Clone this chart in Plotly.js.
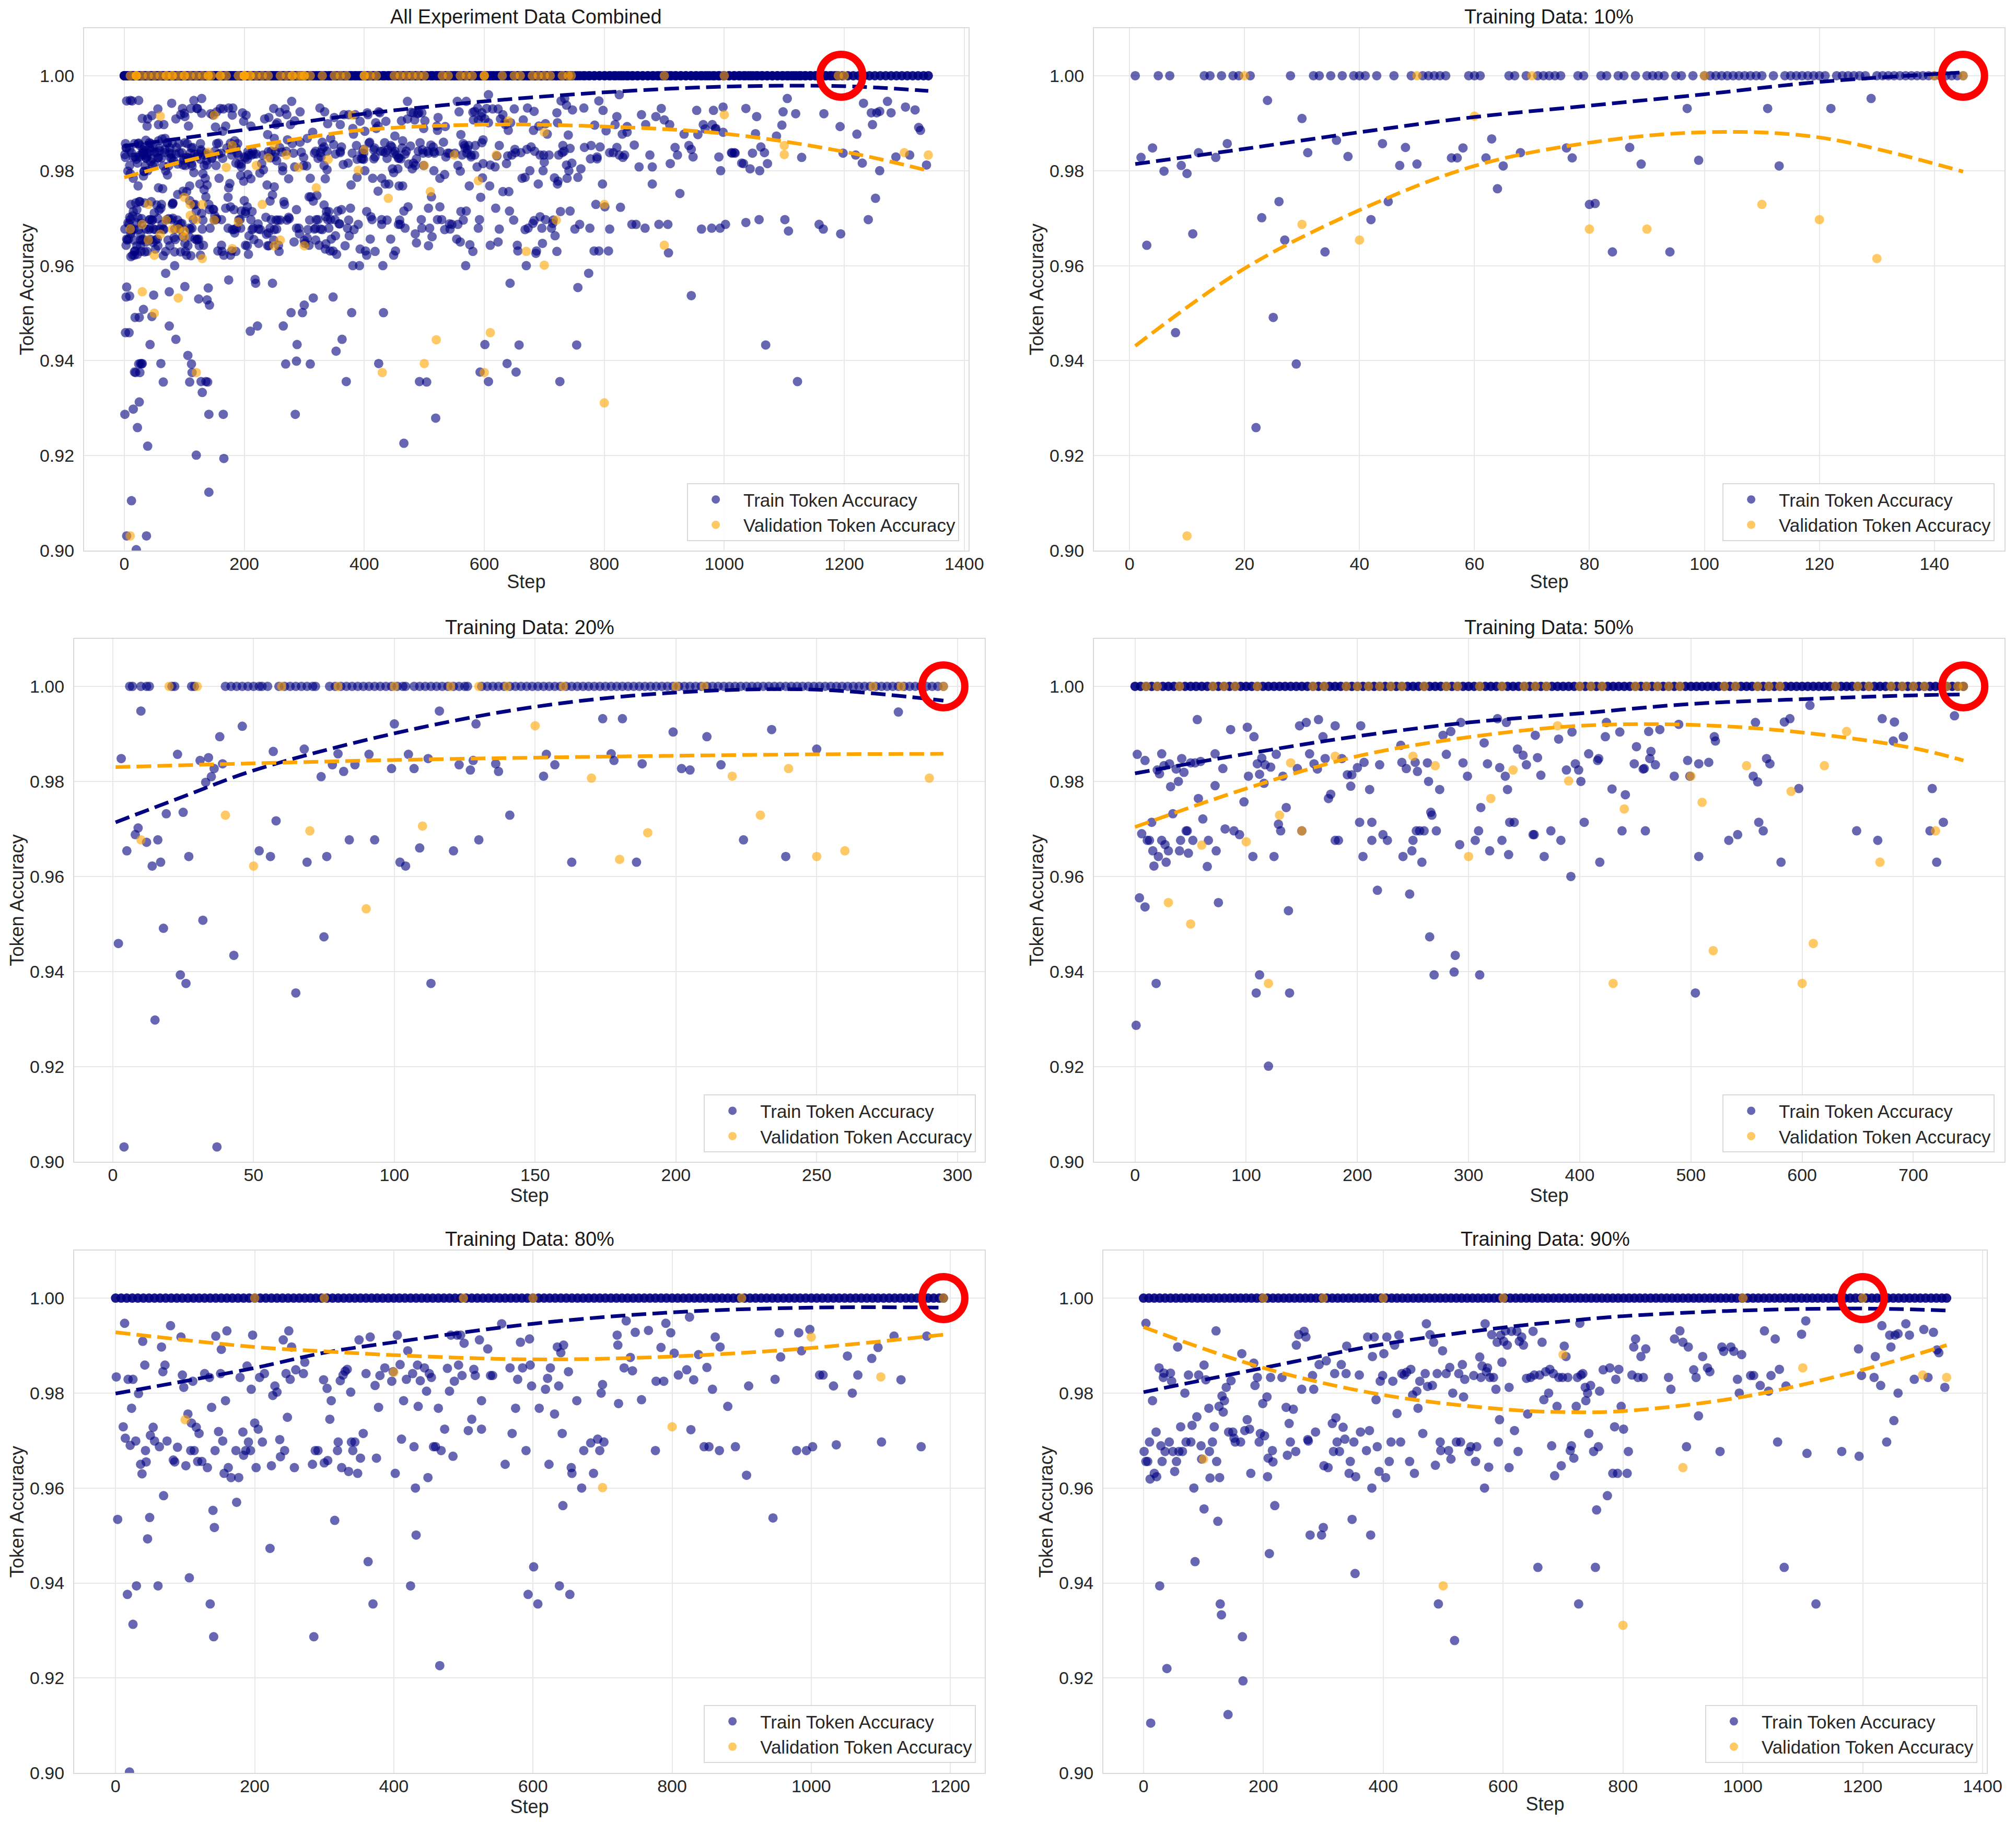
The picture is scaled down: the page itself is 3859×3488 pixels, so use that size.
<!DOCTYPE html>
<html><head><meta charset="utf-8">
<script src="https://cdn.plot.ly/plotly-3.0.1.min.js"></script>
<style>html,body{margin:0;padding:0;background:#fff}#chart{width:3859px;height:3488px}</style>
</head><body><div id="chart"></div>
<script>
// ---------------- Training Data: 10% ----------------
const p10TrainSteps = [2,3,4,6,8,9,10,11,12,15,
17,22,23,24,25,26,27,29,30,31,
34,36,38,42,44,45,47,48,50,56,
57,58,62,63,64,65,68,76,77,80,
81,84,87,89,94,97,99,111,113,122,
129];
const p10TrainAcc = [0.9828,0.9643,0.9848,0.9799,0.9459,0.9811,0.9794,0.9667,0.9838,0.9828,
0.9857,0.9259,0.9701,0.9948,0.9491,0.9735,0.9654,0.9393,0.9910,0.9838,
0.9629,0.9864,0.9830,0.9697,0.9857,0.9735,0.9811,0.9849,0.9814,0.9827,
0.9827,0.9848,0.9827,0.9867,0.9762,0.9810,0.9838,0.9848,0.9827,0.9729,
0.9731,0.9629,0.9849,0.9814,0.9629,0.9931,0.9822,0.9931,0.9810,0.9931,
0.9952];
const p10PerfectSteps = [1,5,7,13,14,16,18,19,21,28,
32,33,35,37,39,40,41,43,46,49,
51,52,53,54,55,59,60,61,66,67,
69,71,72,73,74,75,78,79,82,83,
85,86,88,90,91,92,93,95,96,98,
100,101,102,103,104,105,106,107,108,109,
110,112,114,115,116,117,118,119,120,121,
123,124,125,126,127,128,130,131,132,133,
134,135,136,137,138,139,140,141,142,143,
144,145];
const p10PerfectAcc = [1,1,1,1,1,1,1,1,1,1,
1,1,1,1,1,1,1,1,1,1,
1,1,1,1,1,1,1,1,1,1,
1,1,1,1,1,1,1,1,1,1,
1,1,1,1,1,1,1,1,1,1,
1,1,1,1,1,1,1,1,1,1,
1,1,1,1,1,1,1,1,1,1,
1,1,1,1,1,1,1,1,1,1,
1,1,1,1,1,1,1,1,1,1,
1,1];
const p10ValSteps = [10,20,30,40,50,60,70,80,90,100,110,120,130,140,145];
const p10ValAcc = [0.9031,1,0.9687,0.9654,1,0.9915,1,0.9677,0.9677,1,0.9729,0.9697,0.9615,1,1];
const p10TrendSteps = [1,20,40,60,80,100,120,145];
const p10TrendTrain = [0.9814,0.9846,0.9881,0.9913,0.9937,0.9961,0.9987,1.0007];
const p10TrendVal = [0.9431,0.9594,0.9717,0.9810,0.9859,0.9881,0.9870,0.9798];

// ---------------- Training Data: 20% ----------------
const p20TrainSteps = [2,3,4,5,8,9,10,12,14,15,
16,17,18,19,23,24,25,26,27,31,
32,33,34,35,36,37,38,39,43,46,
52,56,57,58,65,68,69,74,75,76,
78,80,82,84,86,91,93,99,100,102,
104,105,107,109,112,113,116,121,123,127,
128,129,130,136,137,141,153,154,157,163,
174,177,178,181,186,188,199,202,205,211,
216,224,234,239,250,279];
const p20TrainAcc = [0.9459,0.9848,0.9031,0.9654,0.9688,0.9702,0.9948,0.9672,0.9622,0.9298,
0.9677,0.9630,0.9491,0.9732,0.9857,0.9393,0.9735,0.9375,0.9642,0.9844,
0.9508,0.9798,0.9850,0.9810,0.9827,0.9031,0.9894,0.9837,0.9434,0.9916,
0.9654,0.9642,0.9863,0.9717,0.9355,0.9868,0.9630,0.9810,0.9473,0.9642,
0.9835,0.9858,0.9821,0.9677,0.9835,0.9857,0.9677,0.9827,0.9921,0.9630,
0.9622,0.9857,0.9827,0.9660,0.9848,0.9375,0.9948,0.9654,0.9835,0.9824,
0.9844,0.9921,0.9677,0.9837,0.9821,0.9729,0.9811,0.9857,0.9835,0.9630,
0.9932,0.9858,0.9844,0.9932,0.9630,0.9837,0.9904,0.9827,0.9824,0.9894,
0.9835,0.9677,0.9909,0.9642,0.9868,0.9946];
const p20PerfectSteps = [6,7,10,12,13,21,22,28,29,40,
42,44,46,48,50,52,53,55,59,61,
63,65,67,69,71,72,77,79,81,83,
85,87,89,91,93,95,97,99,101,103,
104,107,109,111,113,115,117,119,121,123,
125,126,
131,133,135,137,139,141,143,145,147,149,
151,153,155,157,159,161,163,165,167,169,
171,173,175,177,179,181,183,185,187,189,
191,193,195,197,199,201,203,205,207,209,
211,213,215,217,219,221,223,225,227,229,
231,233,235,237,239,241,243,245,247,249,
251,253,255,257,259,261,263,265,267,269,
271,273,275,277,279,281,283,285,287,289,
291,293,295];
const p20PerfectAcc = [1,1,1,1,1,1,1,1,1,1,
1,1,1,1,1,1,1,1,1,1,
1,1,1,1,1,1,1,1,1,1,
1,1,1,1,1,1,1,1,1,1,
1,1,1,1,1,1,1,1,1,1,
1,1,
1,1,1,1,1,1,1,1,1,1,
1,1,1,1,1,1,1,1,1,1,
1,1,1,1,1,1,1,1,1,1,
1,1,1,1,1,1,1,1,1,1,
1,1,1,1,1,1,1,1,1,1,
1,1,1,1,1,1,1,1,1,1,
1,1,1,1,1,1,1,1,1,1,
1,1,1,1,1,1,1,1,1,1,
1,1,1];
const p20ValSteps = [10,20,30,40,50,60,70,80,90,100,110,120,130,140,150,160,170,180,190,200,210,220,230,240,250,260,270,280,290,295];
const p20ValAcc = [0.9677,1,1,0.9729,0.9622,1,0.9696,1,0.9532,1,0.9706,1,1,1,0.9917,1,0.9807,0.9636,0.9692,1,1,0.9811,0.9729,0.9827,0.9642,0.9654,1,1,0.9807,1];
const p20TrendSteps = [1,25,50,100,150,200,250,295];
const p20TrendTrain = [0.9714,0.9768,0.9823,0.9901,0.9957,0.9987,0.9993,0.9970];
const p20TrendVal = [0.9830,0.9834,0.9838,0.9845,0.9850,0.9854,0.9857,0.9858];

// ---------------- Training Data: 50% ----------------
const p50TrainSteps = [1,2,4,6,9,9,11,13,15,16,
17,19,20,21,22,24,24,26,27,28,
30,31,32,34,37,39,40,41,42,44,
46,47,48,50,52,54,56,57,59,61,
65,66,72,72,73,75,79,81,86,89,
94,98,101,102,106,107,109,110,112,112,
114,116,117,120,122,125,127,129,131,133,
136,138,139,146,148,150,154,157,161,164,
165,169,171,174,176,180,180,183,186,191,
194,195,200,202,203,205,206,211,213,213,
218,220,223,227,239,240,241,244,247,249,
250,252,253,254,256,258,260,263,264,265,
266,267,269,271,274,277,280,284,287,288,
292,293,295,299,306,309,310,311,314,317,
319,326,328,330,333,334,335,336,337,341,
344,349,352,358,359,360,362,365,368,374,
381,383,388,392,393,396,399,401,404,408,
416,417,418,423,424,429,436,438,441,449,
451,457,458,459,462,463,464,468,472,485,
489,497,499,504,507,507,516,521,522,534,
542,556,558,560,561,565,568,571,581,584,
589,597,607,649,668,672,682,683,691,715,
717,721,727,737];
const p50TrainAcc = [0.9287,0.9857,0.9555,0.9690,0.9844,0.9536,0.9676,0.9676,0.9714,0.9654,
0.9622,0.9375,0.9824,0.9642,0.9816,0.9676,0.9858,0.9833,0.9667,0.9630,
0.9654,0.9837,0.9789,0.9732,0.9826,0.9800,0.9654,0.9676,0.9848,0.9819,
0.9696,0.9696,0.9649,0.9839,0.9676,0.9839,0.9930,0.9764,0.9842,0.9721,
0.9621,0.9676,0.9858,0.9791,0.9654,0.9545,0.9827,0.9700,0.9909,0.9696,
0.9688,0.9757,0.9914,0.9811,0.9642,0.9894,0.9355,0.9837,0.9393,0.9815,
0.9849,0.9796,0.9835,0.9201,0.9830,0.9642,0.9857,0.9710,0.9696,0.9811,
0.9745,0.9528,0.9355,0.9827,0.9917,0.9696,0.9924,0.9858,0.9837,0.9826,
0.9930,0.9894,0.9848,0.9764,0.9773,0.9917,0.9676,0.9676,0.9848,0.9814,
0.9790,0.9814,0.9829,0.9714,0.9917,0.9642,0.9840,0.9783,0.9714,0.9676,
0.9571,0.9835,0.9688,0.9676,0.9876,0.9840,0.9642,0.9827,0.9563,0.9654,
0.9676,0.9840,0.9696,0.9821,0.9696,0.9630,0.9696,0.9839,0.9800,0.9473,
0.9735,0.9729,0.9393,0.9696,0.9783,0.9897,0.9857,0.9905,0.9399,0.9434,
0.9667,0.9924,0.9839,0.9811,0.9676,0.9696,0.9393,0.9745,0.9881,0.9837,
0.9654,0.9932,0.9829,0.9676,0.9811,0.9924,0.9783,0.9646,0.9714,0.9714,
0.9868,0.9855,0.9835,0.9688,0.9688,0.9897,0.9850,0.9813,0.9642,0.9696,
0.9889,0.9676,0.9824,0.9600,0.9904,0.9837,0.9824,0.9800,0.9714,0.9858,
0.9844,0.9848,0.9630,0.9894,0.9924,0.9784,0.9904,0.9696,0.9772,0.9837,
0.9873,0.9826,0.9827,0.9696,0.9905,0.9848,0.9863,0.9835,0.9909,0.9811,
0.9920,0.9844,0.9811,0.9355,0.9837,0.9642,0.9840,0.9894,0.9885,0.9676,
0.9688,0.9811,0.9924,0.9799,0.9714,0.9696,0.9848,0.9837,0.9630,0.9925,
0.9932,0.9785,0.9960,0.9696,0.9676,0.9932,0.9885,0.9925,0.9894,0.9696,
0.9785,0.9630,0.9714,0.9938];
const p50PerfectSteps = [0,5,10,15,20,25,30,35,40,45,
50,55,60,65,70,75,80,85,90,95,
100,105,110,115,120,125,130,135,140,145,
150,155,160,165,170,175,180,185,190,195,
200,205,210,215,220,225,230,235,240,245,
250,255,260,265,270,275,280,285,290,295,
300,305,310,315,320,325,330,335,340,345,
350,355,360,365,370,375,380,385,390,395,
400,405,410,415,420,425,430,435,440,445,
450,455,460,465,470,475,480,485,490,495,
500,505,510,515,520,525,530,535,540,545,
550,555,560,565,570,575,580,585,590,595,
600,605,610,615,620,625,630,635,640,645,
650,655,660,665,670,675,680,685,690,695,
700,705,710,715,720,725,730,735,740,745];
const p50PerfectAcc = [1,1,1,1,1,1,1,1,1,1,
1,1,1,1,1,1,1,1,1,1,
1,1,1,1,1,1,1,1,1,1,
1,1,1,1,1,1,1,1,1,1,
1,1,1,1,1,1,1,1,1,1,
1,1,1,1,1,1,1,1,1,1,
1,1,1,1,1,1,1,1,1,1,
1,1,1,1,1,1,1,1,1,1,
1,1,1,1,1,1,1,1,1,1,
1,1,1,1,1,1,1,1,1,1,
1,1,1,1,1,1,1,1,1,1,
1,1,1,1,1,1,1,1,1,1,
1,1,1,1,1,1,1,1,1,1,
1,1,1,1,1,1,1,1,1,1,
1,1,1,1,1,1,1,1,1,1];
const p50ValSteps = [10,20,30,40,50,60,70,80,90,100,
110,120,130,140,150,160,170,180,190,200,
210,220,230,240,250,260,270,280,290,300,
310,320,330,340,350,360,370,380,390,400,
410,420,430,440,450,460,470,480,490,500,
510,520,530,540,550,560,570,580,590,600,
610,620,630,640,650,660,670,680,690,700,
710,720,730,740,745];
const p50ValAcc = [1,1,0.9545,1,0.9500,0.9666,1,1,1,0.9673,
1,0.9375,0.9729,0.9839,0.9696,1,1,0.9853,1,1,
1,1,1,1,0.9853,1,0.9833,1,1,0.9642,
1,0.9764,1,0.9824,1,1,1,0.9917,0.9801,1,
1,1,0.9375,0.9742,1,1,1,1,1,0.9811,
0.9756,0.9444,1,1,0.9833,1,1,1,0.9779,0.9375,
0.9459,0.9833,1,0.9905,1,1,0.9630,1,1,1,
1,0.9696,1,1,1];
const p50TrendSteps = [0,100,200,300,400,500,600,700,745];
const p50TrendTrain = [0.9817,0.9858,0.9895,0.9924,0.9943,0.9963,0.9973,0.9981,0.9983];
const p50TrendVal = [0.9704,0.9785,0.9853,0.9893,0.9917,0.9919,0.9903,0.9870,0.9844];

// ---------------- Training Data: 80% ----------------
const p80TrainSteps = [1,3,11,13,14,17,18,20,21,23,
25,25,29,30,33,36,38,39,42,43,
44,46,49,50,54,56,61,63,66,68,
69,71,74,79,83,85,89,94,96,98,
101,104,106,108,109,111,113,116,118,120,
124,128,132,135,136,138,140,141,142,143,
144,148,151,152,154,156,158,160,162,166,
173,174,177,179,183,184,187,189,191,194,
195,197,200,202,205,207,211,214,222,224,
226,229,232,236,237,241,243,245,247,249,
251,253,257,259,270,272,283,285,287,291,
299,300,304,305,308,310,315,319,320,323,
325,327,330,333,335,338,339,341,344,348,
350,352,356,360,363,366,370,373,375,378,
380,387,397,399,402,405,409,411,414,418,
420,424,427,429,431,432,434,435,438,444,
447,449,451,454,457,460,464,466,468,473,
477,480,482,485,487,491,493,496,498,501,
507,512,515,517,523,526,526,535,539,542,
555,560,567,570,575,578,582,585,590,593,
595,596,598,601,607,609,618,621,623,625,
631,635,637,638,640,642,643,644,651,653,
655,656,663,670,673,683,687,693,696,698,
700,702,721,722,723,731,734,740,743,747,
756,766,776,777,784,788,791,798,803,809,
821,825,827,831,838,846,850,853,858,862,
868,869,880,891,907,910,945,948,954,956,
979,982,986,993,998,1002,1012,1017,1032,1036,
1052,1059,1067,1087,1096,1101,1119,1129,1158,1166];
const p80TrainAcc = [0.9834,0.9534,0.9729,0.9947,0.9705,0.9376,0.9829,0.9002,0.9690,0.9768,
0.9313,0.9829,0.9699,0.9394,0.9799,0.9650,0.9630,0.9909,0.9859,0.9679,
0.9655,0.9493,0.9538,0.9711,0.9728,0.9699,0.9394,0.9687,0.9897,0.9845,
0.9584,0.9859,0.9699,0.9942,0.9659,0.9655,0.9686,0.9918,0.9838,0.9812,
0.9647,0.9756,0.9411,0.9679,0.9737,0.9825,0.9679,0.9728,0.9656,0.9715,
0.9656,0.9841,0.9643,0.9833,0.9356,0.9770,0.9553,0.9287,0.9517,0.9679,
0.9920,0.9719,0.9841,0.9892,0.9699,0.9631,0.9784,0.9931,0.9643,0.9622,
0.9679,0.9570,0.9622,0.9833,0.9718,0.9669,0.9679,0.9857,0.9697,0.9679,
0.9808,0.9922,0.9737,0.9643,0.9724,0.9833,0.9697,0.9841,0.9473,0.9647,
0.9795,0.9815,0.9802,0.9702,0.9666,0.9912,0.9679,0.9841,0.9749,0.9931,
0.9829,0.9897,0.9643,0.9849,0.9841,0.9865,0.9650,0.9287,0.9679,0.9679,
0.9828,0.9653,0.9810,0.9658,0.9745,0.9784,0.9532,0.9679,0.9697,0.9826,
0.9643,0.9838,0.9846,0.9850,0.9635,0.9802,0.9697,0.9679,0.9697,0.9631,
0.9912,0.9663,0.9715,0.9841,0.9445,0.9918,0.9356,0.9816,0.9663,0.9770,
0.9837,0.9853,0.9825,0.9845,0.9631,0.9922,0.9860,0.9703,0.9784,0.9829,
0.9889,0.9394,0.9841,0.9687,0.9600,0.9501,0.9859,0.9772,0.9826,0.9853,
0.9804,0.9622,0.9841,0.9833,0.9687,0.9687,0.9768,0.9226,0.9679,0.9724,
0.9852,0.9804,0.9922,0.9667,0.9825,0.9922,0.9859,0.9922,0.9837,0.9905,
0.9721,0.9745,0.9850,0.9837,0.9912,0.9724,0.9784,0.9893,0.9837,0.9837,
0.9946,0.9650,0.9853,0.9715,0.9768,0.9829,0.9907,0.9853,0.9679,0.9376,
0.9914,0.9859,0.9815,0.9434,0.9356,0.9768,0.9808,0.9831,0.9650,0.9853,
0.9756,0.9897,0.9815,0.9394,0.9885,0.9715,0.9563,0.9901,0.9845,0.9376,
0.9643,0.9631,0.9784,0.9600,0.9679,0.9695,0.9631,0.9703,0.9679,0.9800,
0.9818,0.9697,0.9922,0.9901,0.9778,0.9853,0.9952,0.9875,0.9847,0.9928,
0.9786,0.9932,0.9679,0.9825,0.9896,0.9825,0.9947,0.9927,0.9884,0.9838,
0.9849,0.9960,0.9723,0.9828,0.9881,0.9687,0.9854,0.9687,0.9808,0.9918,
0.9679,0.9897,0.9772,0.9687,0.9627,0.9815,0.9537,0.9829,0.9927,0.9876,
0.9679,0.9927,0.9889,0.9679,0.9934,0.9687,0.9838,0.9838,0.9815,0.9691,
0.9878,0.9800,0.9838,0.9873,0.9896,0.9697,0.9920,0.9828,0.9687,0.9920];
const p80PerfectSteps = [0,8,16,24,32,40,48,56,64,72,
80,88,96,104,112,120,128,136,144,152,
160,168,176,184,192,200,208,216,224,232,
240,248,256,264,272,280,288,296,304,312,
320,328,336,344,352,360,368,376,384,392,
400,408,416,424,432,440,448,456,464,472,
480,488,496,504,512,520,528,536,544,552,
560,568,576,584,592,600,608,616,624,632,
640,648,656,664,672,680,688,696,704,712,
720,728,736,744,752,760,768,776,784,792,
800,808,816,824,832,840,848,856,864,872,
880,888,896,904,912,920,928,936,944,952,
960,968,976,984,992,1000,1008,1016,1024,1032,
1040,1048,1056,1064,1072,1080,1088,1096,1104,1112,
1120,1128,1136,1144,1152,1160,1168,1176,1184,1190];
const p80PerfectAcc = [1,1,1,1,1,1,1,1,1,1,
1,1,1,1,1,1,1,1,1,1,
1,1,1,1,1,1,1,1,1,1,
1,1,1,1,1,1,1,1,1,1,
1,1,1,1,1,1,1,1,1,1,
1,1,1,1,1,1,1,1,1,1,
1,1,1,1,1,1,1,1,1,1,
1,1,1,1,1,1,1,1,1,1,
1,1,1,1,1,1,1,1,1,1,
1,1,1,1,1,1,1,1,1,1,
1,1,1,1,1,1,1,1,1,1,
1,1,1,1,1,1,1,1,1,1,
1,1,1,1,1,1,1,1,1,1,
1,1,1,1,1,1,1,1,1,1,
1,1,1,1,1,1,1,1,1,1];
const p80ValSteps = [100,200,300,400,500,600,700,800,900,1000,1100,1190];
const p80ValAcc = [0.9744,1,1,0.9844,1,1,0.9601,0.9729,1,0.9918,0.9834,1];
const p80TrendSteps = [0,200,300,400,600,800,1000,1190];
const p80TrendTrain = [0.9799,0.9853,0.9885,0.9907,0.9946,0.9970,0.9980,0.9980];
const p80TrendVal = [0.9928,0.9897,0.9888,0.9880,0.9871,0.9877,0.9895,0.9923];

// ---------------- Training Data: 90% ----------------
const p90TrainSteps = [1,4,4,7,10,11,12,15,18,21,
22,26,27,29,31,33,34,36,39,43,
45,47,49,52,55,57,59,62,65,69,
71,75,79,81,84,86,89,92,96,97,
101,104,101,109,110,111,115,118,121,122,
124,126,127,128,130,131,133,135,138,141,
142,146,149,151,153,162,164,165,166,169,
173,177,179,184,186,190,193,195,199,202,
206,207,208,210,212,215,216,219,231,238,
240,243,245,250,254,255,259,264,268,271,
274,275,278,282,284,287,293,297,300,301,
305,308,315,317,319,321,323,327,330,333,
336,338,339,343,345,348,351,353,354,360,
362,372,374,377,379,381,382,385,388,390,
393,395,399,401,404,406,410,413,416,419,
423,426,429,431,435,439,444,446,449,452,
456,458,461,466,470,472,474,478,482,484,
487,490,492,495,496,499,505,509,511,513,
516,519,522,526,529,532,534,536,543,546,
551,554,556,561,563,565,569,570,572,574,
576,578,581,584,588,590,592,594,596,598,
601,604,607,610,610,614,619,623,625,627,
631,634,639,641,646,650,652,658,661,665,
668,671,676,678,681,684,686,690,693,697,
699,702,705,708,712,714,718,722,724,726,
728,730,733,737,738,741,743,746,751,754,
756,759,761,767,774,778,783,786,788,791,
793,797,801,807,809,815,818,821,825,830,
834,838,876,880,886,895,900,906,909,918,
922,926,933,941,945,962,965,968,980,985,
991,994,998,1013,1018,1029,1036,1043,1047,1054,
1058,1061,1069,1072,1098,1105,1107,1122,1165,1193,
1194,1198,1219,1221,1230,1232,1240,1245,1247,1252,
1254,1259,1259,1272,1278,1286,1302,1309,1318,1324,
1327,1337];
const p90TrainAcc = [0.9677,0.9947,0.9656,0.9656,0.9697,0.9619,0.9105,0.9784,0.9631,0.9718,
0.9624,0.9853,0.9394,0.9689,0.9656,0.9833,0.9842,0.9677,0.9220,0.9697,
0.9842,0.9825,0.9677,0.9635,0.9656,0.9897,0.9677,0.9729,0.9677,0.9800,
0.9697,0.9838,0.9697,0.9732,0.9600,0.9445,0.9750,0.9838,0.9689,0.9661,
0.9859,0.9828,0.9556,0.9768,0.9677,0.9621,0.9697,0.9729,0.9931,0.9656,
0.9530,0.9772,0.9622,0.9356,0.9333,0.9794,0.9760,0.9784,0.9812,0.9123,
0.9718,0.9826,0.9718,0.9705,0.9697,0.9697,0.9883,0.9287,0.9194,0.9721,
0.9744,0.9724,0.9631,0.9863,0.9816,0.9833,0.9697,0.9715,0.9778,0.9710,
0.9792,0.9624,0.9663,0.9462,0.9833,0.9679,0.9655,0.9563,0.9833,0.9770,
0.9669,0.9736,0.9697,0.9766,0.9677,0.9901,0.9923,0.9808,0.9930,0.9918,
0.9702,0.9699,0.9501,0.9837,0.9808,0.9718,0.9860,0.9501,0.9517,0.9647,
0.9868,0.9643,0.9736,0.9677,0.9841,0.9748,0.9697,0.9677,0.9860,0.9728,
0.9703,0.9841,0.9899,0.9631,0.9656,0.9534,0.9697,0.9420,0.9624,0.9838,
0.9718,0.9679,0.9918,0.9721,0.9501,0.9600,0.9877,0.9918,0.9786,0.9687,
0.9635,0.9825,0.9837,0.9883,0.9622,0.9918,0.9656,0.9697,0.9825,0.9901,
0.9757,0.9922,0.9697,0.9841,0.9838,0.9844,0.9656,0.9850,0.9796,0.9631,
0.9804,0.9768,0.9825,0.9715,0.9841,0.9946,0.9814,0.9923,0.9816,0.9907,
0.9648,0.9841,0.9356,0.9697,0.9679,0.9889,0.9841,0.9679,0.9854,0.9661,
0.9800,0.9279,0.9697,0.9841,0.9697,0.9860,0.9792,0.9829,0.9677,0.9687,
0.9837,0.9656,0.9687,0.9876,0.9833,0.9857,0.9600,0.9946,0.9845,0.9853,
0.9644,0.9833,0.9923,0.9833,0.9808,0.9907,0.9697,0.9744,0.9922,0.9865,
0.9909,0.9931,0.9901,0.9812,0.9643,0.9930,0.9721,0.9930,0.9677,0.9909,
0.9918,0.9901,0.9831,0.9756,0.9833,0.9930,0.9838,0.9433,0.9838,0.9907,
0.9786,0.9845,0.9800,0.9850,0.9689,0.9841,0.9626,0.9772,0.9833,0.9647,
0.9833,0.9899,0.9877,0.9833,0.9679,0.9689,0.9663,0.9772,0.9833,0.9356,
0.9947,0.9838,0.9841,0.9812,0.9784,0.9800,0.9715,0.9816,0.9677,0.9433,
0.9554,0.9687,0.9804,0.9849,0.9584,0.9853,0.9631,0.9729,0.9829,0.9631,
0.9850,0.9772,0.9724,0.9631,0.9677,0.9838,0.9897,0.9914,0.9833,0.9877,
0.9833,0.9893,0.9833,0.9808,0.9914,0.9931,0.9907,0.9687,0.9897,0.9849,
0.9833,0.9752,0.9877,0.9853,0.9845,0.9677,0.9897,0.9888,0.9897,0.9888,
0.9829,0.9800,0.9881,0.9837,0.9837,0.9816,0.9931,0.9804,0.9837,0.9914,
0.9697,0.9850,0.9433,0.9815,0.9924,0.9952,0.9673,0.9356,0.9677,0.9893,
0.9667,0.9837,0.9833,0.9877,0.9816,0.9942,0.9697,0.9922,0.9897,0.9742,
0.9922,0.9800,0.9925,0.9946,0.9922,0.9829,0.9934,0.9833,0.9928,0.9891,
0.9885,0.9812];
const p90PerfectSteps = [0,9,18,27,36,45,54,63,72,81,
90,99,108,117,126,135,144,153,162,171,
180,189,198,207,216,225,234,243,252,261,
270,279,288,297,306,315,324,333,342,351,
360,369,378,387,396,405,414,423,432,441,
450,459,468,477,486,495,504,513,522,531,
540,549,558,567,576,585,594,603,612,621,
630,639,648,657,666,675,684,693,702,711,
720,729,738,747,756,765,774,783,792,801,
810,819,828,837,846,855,864,873,882,891,
900,909,918,927,936,945,954,963,972,981,
990,999,1008,1017,1026,1035,1044,1053,1062,1071,
1080,1089,1098,1107,1116,1125,1134,1143,1152,1161,
1170,1179,1188,1197,1206,1215,1224,1233,1242,1251,
1260,1269,1278,1287,1296,1305,1314,1323,1332,1340];
const p90PerfectAcc = [1,1,1,1,1,1,1,1,1,1,
1,1,1,1,1,1,1,1,1,1,
1,1,1,1,1,1,1,1,1,1,
1,1,1,1,1,1,1,1,1,1,
1,1,1,1,1,1,1,1,1,1,
1,1,1,1,1,1,1,1,1,1,
1,1,1,1,1,1,1,1,1,1,
1,1,1,1,1,1,1,1,1,1,
1,1,1,1,1,1,1,1,1,1,
1,1,1,1,1,1,1,1,1,1,
1,1,1,1,1,1,1,1,1,1,
1,1,1,1,1,1,1,1,1,1,
1,1,1,1,1,1,1,1,1,1,
1,1,1,1,1,1,1,1,1,1,
1,1,1,1,1,1,1,1,1,1];
const p90ValSteps = [100,200,300,400,500,600,700,800,900,1000,1100,1200,1300,1340];
const p90ValAcc = [0.9661,1,1,1,0.9394,1,0.9881,0.9311,0.9643,1,0.9853,1,0.9838,0.9833];
const p90TrendSteps = [0,200,400,600,700,800,1000,1200,1340];
const p90TrendTrain = [0.9802,0.9853,0.9903,0.9938,0.9951,0.9962,0.9974,0.9978,0.9974];
const p90TrendVal = [0.9939,0.9853,0.9796,0.9766,0.9760,0.9762,0.9792,0.9849,0.9901];

// ---------------- All experiment data combined (trend) ----------------
const allTrendSteps = [0,100,200,300,400,600,800,1000,1200,1340];
const allTrendTrain = [0.9852,0.9869,0.9886,0.9903,0.9920,0.9946,0.9965,0.9977,0.9978,0.9968];
const allTrendVal = [0.9786,0.9820,0.9848,0.9869,0.9886,0.9897,0.9893,0.9878,0.9840,0.9800];

// highlighted final checkpoints (red rings), one per panel
const highlightSteps = [1195,145,295,745,1190,1200];
const highlightAcc = [1,1,1,1,1,1];

const panelTitles = ['All Experiment Data Combined','Training Data: 10%','Training Data: 20%','Training Data: 50%','Training Data: 80%','Training Data: 90%'];

// combined panel = union of all runs
const allTrainSteps = [].concat(p10TrainSteps,p20TrainSteps,p50TrainSteps,p80TrainSteps,p90TrainSteps);
const allTrainAcc = [].concat(p10TrainAcc,p20TrainAcc,p50TrainAcc,p80TrainAcc,p90TrainAcc);
const allPerfectSteps = [].concat(p10PerfectSteps,p20PerfectSteps,p50PerfectSteps,p80PerfectSteps,p90PerfectSteps);
const allPerfectAcc = [].concat(p10PerfectAcc,p20PerfectAcc,p50PerfectAcc,p80PerfectAcc,p90PerfectAcc);
const allValSteps = [].concat(p10ValSteps,p20ValSteps,p50ValSteps,p80ValSteps,p90ValSteps);
const allValAcc = [].concat(p10ValAcc,p20ValAcc,p50ValAcc,p80ValAcc,p90ValAcc);

const FONT = '"Liberation Sans", Arial, sans-serif';
const NAVY = '#000080', ORANGE = '#FFA500', TXT = '#262626';

const panels = [
 {tr:[allTrainSteps,allTrainAcc], pf:[allPerfectSteps,allPerfectAcc], va:[allValSteps,allValAcc], td:[allTrendSteps,allTrendTrain,allTrendVal],
  range:[-67,1407], dtick:200, xd:[0.0417,0.4804], yd:[0.6978,0.9845], lg:[0.4758,0.7030], bandOp:0.9},
 {tr:[p10TrainSteps,p10TrainAcc], pf:[p10PerfectSteps,p10PerfectAcc], va:[p10ValSteps,p10ValAcc], td:[p10TrendSteps,p10TrendTrain,p10TrendVal],
  range:[-6.2,152.2], dtick:20, xd:[0.5426,0.9943], yd:[0.6978,0.9845], lg:[0.9894,0.7030], bandOp:0.6},
 {tr:[p20TrainSteps,p20TrainAcc], pf:[p20PerfectSteps,p20PerfectAcc], va:[p20ValSteps,p20ValAcc], td:[p20TrendSteps,p20TrendTrain,p20TrendVal],
  range:[-13.7,309.7], dtick:50, xd:[0.0368,0.4885], yd:[0.3624,0.6494], lg:[0.4841,0.3675], bandOp:0.6},
 {tr:[p50TrainSteps,p50TrainAcc], pf:[p50PerfectSteps,p50PerfectAcc], va:[p50ValSteps,p50ValAcc], td:[p50TrendSteps,p50TrendTrain,p50TrendVal],
  range:[-37,782], dtick:100, xd:[0.5426,0.9943], yd:[0.3624,0.6494], lg:[0.9894,0.3675], bandOp:0.9},
 {tr:[p80TrainSteps,p80TrainAcc], pf:[p80PerfectSteps,p80PerfectAcc], va:[p80ValSteps,p80ValAcc], td:[p80TrendSteps,p80TrendTrain,p80TrendVal],
  range:[-59.5,1249.5], dtick:200, xd:[0.0368,0.4885], yd:[0.0269,0.3136], lg:[0.4841,0.0324], bandOp:0.9},
 {tr:[p90TrainSteps,p90TrainAcc], pf:[p90PerfectSteps,p90PerfectAcc], va:[p90ValSteps,p90ValAcc], td:[p90TrendSteps,p90TrendTrain,p90TrendVal],
  range:[-67,1407], dtick:200, xd:[0.5473,0.9855], yd:[0.0269,0.3136], lg:[0.9808,0.0324], bandOp:0.9}
];

const traces = [];
const layout = {
  width:3859, height:3488, margin:{l:0,r:0,t:0,b:0,pad:0},
  paper_bgcolor:'#ffffff', plot_bgcolor:'#ffffff',
  font:{family:FONT, size:34, color:TXT},
  hovermode:false, annotations:[]
};

const MS = 18;
panels.forEach((p,i)=>{
  const n = i+1;
  const xr = n===1?'x':'x'+n, yr = n===1?'y':'y'+n;
  const xa = n===1?'xaxis':'xaxis'+n, ya = n===1?'yaxis':'yaxis'+n;
  const lg = n===1?'legend':'legend'+n;
  const common = {xaxis:xr, yaxis:yr, legend:lg};
  traces.push(Object.assign({type:'scatter', mode:'markers', x:p.pf[0], y:p.pf[1], showlegend:false,
    marker:{color:NAVY, size:MS, opacity:p.bandOp, line:{width:0}}}, common));
  traces.push(Object.assign({type:'scatter', mode:'markers', name:'Train Token Accuracy', x:p.tr[0], y:p.tr[1],
    marker:{color:NAVY, size:MS, opacity:0.6, line:{width:0}}}, common));
  traces.push(Object.assign({type:'scatter', mode:'markers', name:'Validation Token Accuracy', x:p.va[0], y:p.va[1],
    marker:{color:ORANGE, size:MS, opacity:0.6, line:{width:0}}}, common));
  traces.push(Object.assign({type:'scatter', mode:'lines', x:p.td[0], y:p.td[1], showlegend:false,
    line:{color:NAVY, width:7, dash:'28px,12px', shape:'spline', smoothing:1}}, common));
  traces.push(Object.assign({type:'scatter', mode:'lines', x:p.td[0], y:p.td[2], showlegend:false,
    line:{color:ORANGE, width:7, dash:'28px,12px', shape:'spline', smoothing:1}}, common));
  traces.push(Object.assign({type:'scatter', mode:'markers', x:[highlightSteps[i]], y:[highlightAcc[i]], showlegend:false, cliponaxis:false,
    marker:{symbol:'circle-open', color:'#ff0000', size:82, line:{width:14, color:'#ff0000'}}}, common));

  layout[xa] = {domain:p.xd, range:p.range, anchor:yr, tick0:0, dtick:p.dtick,
    showgrid:true, gridcolor:'#e8e8e8', gridwidth:2, zeroline:false,
    showline:true, linecolor:'#dadada', linewidth:2, mirror:true, ticks:'',
    tickfont:{size:34, color:TXT, family:FONT}, ticklabelstandoff:-6,
    title:{text:'Step', font:{size:36, color:TXT, family:FONT}, standoff:4}};
  layout[ya] = {domain:p.yd, range:[0.9,1.01], anchor:xr, tick0:0.9, dtick:0.02, tickformat:'.2f',
    showgrid:true, gridcolor:'#e8e8e8', gridwidth:2, zeroline:false,
    showline:true, linecolor:'#dadada', linewidth:2, mirror:true, ticks:'',
    tickfont:{size:34, color:TXT, family:FONT}, ticklabelstandoff:10,
    title:{text:'Token Accuracy', font:{size:36, color:TXT, family:FONT}, standoff:0}};
  layout[lg] = {x:p.lg[0], y:p.lg[1], xanchor:'right', yanchor:'bottom', xref:'paper', yref:'paper',
    bgcolor:'rgba(255,255,255,0.85)', bordercolor:'#d9d9d9', borderwidth:2,
    font:{size:35, color:TXT, family:FONT}, itemwidth:96, traceorder:'normal', tracegroupgap:0};
  layout.annotations.push({xref:'paper', yref:'paper', x:(p.xd[0]+p.xd[1])/2, y:p.yd[1], xanchor:'center', yanchor:'bottom',
    yshift:-1, showarrow:false, text:panelTitles[i], font:{size:38, color:'#1a1a1a', family:FONT}});
});

Plotly.newPlot('chart', traces, layout, {staticPlot:true, displayModeBar:false});
</script></body></html>
